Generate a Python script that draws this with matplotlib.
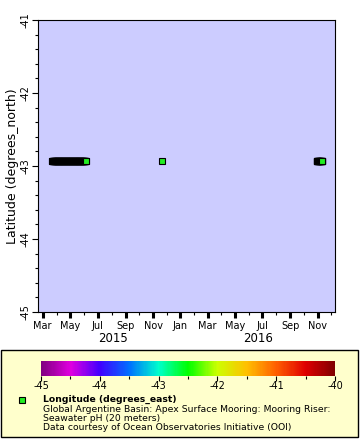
import pandas as pd
import numpy as np
import matplotlib
matplotlib.use("Agg")
import matplotlib.pyplot as plt
import matplotlib.dates as mdates
from matplotlib.colors import LinearSegmentedColormap, Normalize
from matplotlib.patches import Rectangle
import matplotlib.colorbar as mcolorbar

plt.rcParams['font.family'] = ['DejaVu Sans']
plt.rcParams['axes.unicode_minus'] = False

# observation periods (start, end) of the mooring
seg_start = ["2015-03-22", "2015-11-20", "2016-10-29"]
seg_end = ["2015-06-05", "2015-11-20", "2016-11-11"]
latitude = -42.93
longitude = -42.5

# colour bar palette
cb_vals = [-45, -44.5, -44, -43.5, -43, -42.5, -42, -41.5, -41, -40.5, -40]
cb_cols = ["#800080", "#e000e0", "#4000ff", "#0070ff", "#00ffcc", "#00ff00",
           "#ccff00", "#ffc000", "#ff6000", "#e00000", "#800000"]
cmap = LinearSegmentedColormap.from_list(
    "erd", list(zip([(v + 45) / 5 for v in cb_vals], cb_cols)))
norm = Normalize(-45, -40)
pt_col = "#22ee22"

fig = plt.figure(figsize=(3.6, 4.4), dpi=100)

# legend area (drawn first, behind everything)
fig.patches.append(Rectangle((1 / 360, 3 / 440), 357 / 360, 87 / 440,
                             transform=fig.transFigure, facecolor="#ffffcc",
                             edgecolor="black", lw=1, zorder=-10))

ax = fig.add_axes([0.1047, 0.2909, 0.8259, 0.6636])
ax.set_facecolor("#ccccff")

for s, e in zip(seg_start, seg_end):
    t = pd.date_range(s, e, freq="12h")
    ax.plot(t, np.full(len(t), latitude), ls="none", marker="s", ms=4.4,
            mfc=pt_col, mec="black", mew=0.8, antialiased=False)

ax.set_xlim(pd.Timestamp("2015-02-18"), pd.Timestamp("2016-12-09"))
ax.set_ylim(-45, -41)

ax.xaxis.set_major_locator(mdates.MonthLocator(bymonth=[1, 3, 5, 7, 9, 11]))
ax.xaxis.set_minor_locator(mdates.MonthLocator())
ax.xaxis.set_major_formatter(mdates.DateFormatter("%b"))
ax.set_yticks([-45, -44, -43, -42, -41])
ax.set_yticklabels(["-45", "-44", "-43", "-42", "-41"], rotation=90, va="center")
ax.yaxis.set_minor_locator(plt.MultipleLocator(0.2))
ax.tick_params(which="major", length=4, width=0.8, labelsize=7, pad=2.5)
ax.tick_params(axis="y", which="major", pad=1)
ax.tick_params(which="minor", length=2.2, width=0.8)
for tk in ax.xaxis.get_major_ticks():
    if mdates.num2date(tk.get_loc()).month == 1:
        tk.tick1line.set_markeredgewidth(2.2)
        tk.tick1line.set_markersize(4.5)

ax.set_ylabel("Latitude (degrees_north)", fontsize=9, labelpad=1)

# year labels
x0, x1 = ax.get_xlim()
jan = mdates.date2num(pd.Timestamp("2016-01-01"))
ax.text((x0 + jan) / 2 + 8, -45.36, "2015", ha="center", va="center", fontsize=8.5)
ax.text((jan + x1) / 2, -45.36, "2016", ha="center", va="center", fontsize=8.5)

cax = fig.add_axes([0.1139, 0.1461, 0.8167, 0.0334])
cb = mcolorbar.ColorbarBase(cax, cmap=cmap, norm=norm, orientation="horizontal")
cb.outline.set_visible(False)
cb.set_ticks([-45, -44, -43, -42, -41, -40])
cb.set_ticklabels(["-45", "-44", "-43", "-42", "-41", "-40"])
cax.xaxis.set_minor_locator(plt.MultipleLocator(0.5))
cax.tick_params(which="major", length=3.5, width=0.8, labelsize=7, pad=0.5)
cax.tick_params(which="minor", length=2, width=0.8)

fig.lines.append(plt.Line2D([22 / 360], [(440 - 400) / 440], transform=fig.transFigure,
                            ls="none", marker="s", ms=4.3, mfc=pt_col, mec="black", mew=0.8))
fig.text(43 / 360, (440 - 399.5) / 440, "Longitude (degrees_east)", fontsize=6.7,
         fontweight="bold", va="center")
lines = ["Global Argentine Basin: Apex Surface Mooring: Mooring Riser:",
         "Seawater pH (20 meters)",
         "Data courtesy of Ocean Observatories Initiative (OOI)"]
for i, s in enumerate(lines):
    fig.text(43 / 360, (440 - 409 - 9.4 * i) / 440, s, fontsize=6.7, va="center")

fig.savefig("out.png", dpi=100)
